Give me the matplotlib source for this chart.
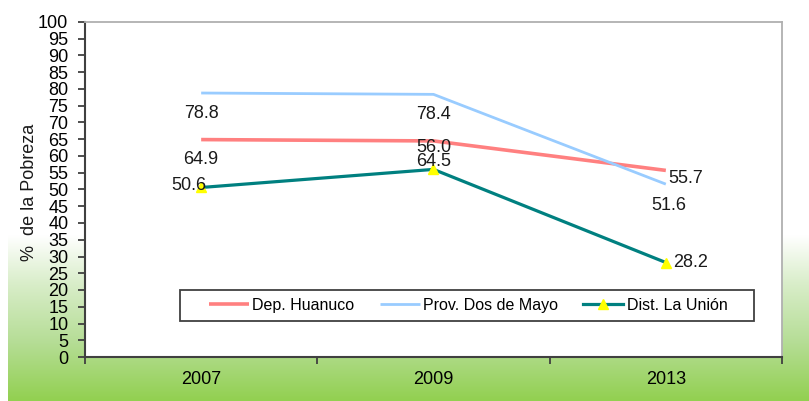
import numpy as np
import matplotlib
matplotlib.use("Agg")
import matplotlib.pyplot as plt
from matplotlib.colors import LinearSegmentedColormap
from matplotlib.patches import Rectangle

plt.rcParams["font.family"] = ["Liberation Sans", "DejaVu Sans"]

years = ["2007", "2009", "2013"]
huanuco = [64.9, 64.5, 55.7]
dos_de_mayo = [78.8, 78.4, 51.6]
la_union = [50.6, 56.0, 28.2]
series_names = ["Dep. Huanuco", "Prov. Dos de Mayo", "Dist. La Unión"]

fig = plt.figure(figsize=(8.09, 4.01), dpi=100)

# green gradient in the lower part of the background
bg = fig.add_axes([8 / 809, 0, 1 - 8 / 809, 166 / 401], zorder=-5)
grad_cmap = LinearSegmentedColormap.from_list(
    "bg", [(0.0, "#92d050"), (0.35, "#b5dd95"), (0.7, "#d8edc8"), (1.0, "#ffffff")])
grad = np.linspace(0, 1, 256).reshape(-1, 1)
bg.imshow(grad, cmap=grad_cmap, aspect="auto", origin="lower", extent=[0, 1, 0, 1])
bg.axis("off")

ax = fig.add_axes([85 / 809, 44 / 401, 697 / 809, 335 / 401])
ax.set_facecolor("white")

x = np.arange(len(years))
ax.plot(x, huanuco, color="#ff8080", lw=2.6, solid_capstyle="butt", label=series_names[0])
ax.plot(x, dos_de_mayo, color="#99ccff", lw=2.0, solid_capstyle="butt", label=series_names[1])
ax.plot(x, la_union, color="#008080", lw=2.3, marker="^", markersize=7,
        markerfacecolor="#ffff00", markeredgecolor="#ffff00", label=series_names[2])

# data labels (offsets in pixels)
label_offsets = {
    0: [(0, -20, "center"), (0, -21, "center"), (2, -8, "left")],
    1: [(0, -20, "center"), (0, -20, "center"), (3, -21, "center")],
    2: [(5, 2, "right"), (0, 22, "center"), (7, 0, "left")],
}
for si, vals in enumerate([huanuco, dos_de_mayo, la_union]):
    for i, v in enumerate(vals):
        dx, dy, ha = label_offsets[si][i]
        ax.annotate(f"{v:.1f}", (x[i], v), xytext=(dx, dy), textcoords="offset pixels",
                    ha=ha, va="center", fontsize=13, color="#1a1a1a")

ax.set_xlim(-0.5, 2.5)
ax.set_ylim(0, 100)
ax.set_yticks(range(0, 101, 5))
ax.set_xticks([-0.5, 0.5, 1.5, 2.5])
ax.set_xticklabels([])
ax.set_xticks(x, minor=True)
ax.set_xticklabels(years, minor=True)
ax.tick_params(axis="x", which="minor", length=0, pad=10, labelsize=13)
ax.tick_params(axis="x", which="major", length=5, direction="out", color="#404040", width=1.3)
ax.tick_params(axis="y", length=5, direction="out", color="#404040", width=1.3,
               labelsize=13, pad=7)

for side in ["left", "bottom"]:
    ax.spines[side].set_color("#404040")
    ax.spines[side].set_linewidth(1.5)
for side in ["top", "right"]:
    ax.spines[side].set_color("#b0b0b0")
    ax.spines[side].set_linewidth(1.3)

ax.set_ylabel("%  de la Pobreza", fontsize=13, color="#1a1a1a")
ax.yaxis.set_label_coords((38 - 85) / 697, 0.49)

# legend box drawn separately so the entries can sit with wider side padding
ax.add_patch(Rectangle(((180 - 85) / 697, (357 - 321) / 335), 574 / 697, 31 / 335,
                       transform=ax.transAxes, facecolor="white", edgecolor="#404040",
                       lw=1.3, zorder=4))
leg = ax.legend(loc="center left", bbox_to_anchor=((209 - 85) / 697, (357 - 305.5) / 335),
                ncol=3, borderaxespad=0, borderpad=0, frameon=False,
                fontsize=11.5, handlelength=2.5, handletextpad=0.2, columnspacing=1.6)
leg.set_zorder(5)

fig.savefig("out.png", dpi=100)
